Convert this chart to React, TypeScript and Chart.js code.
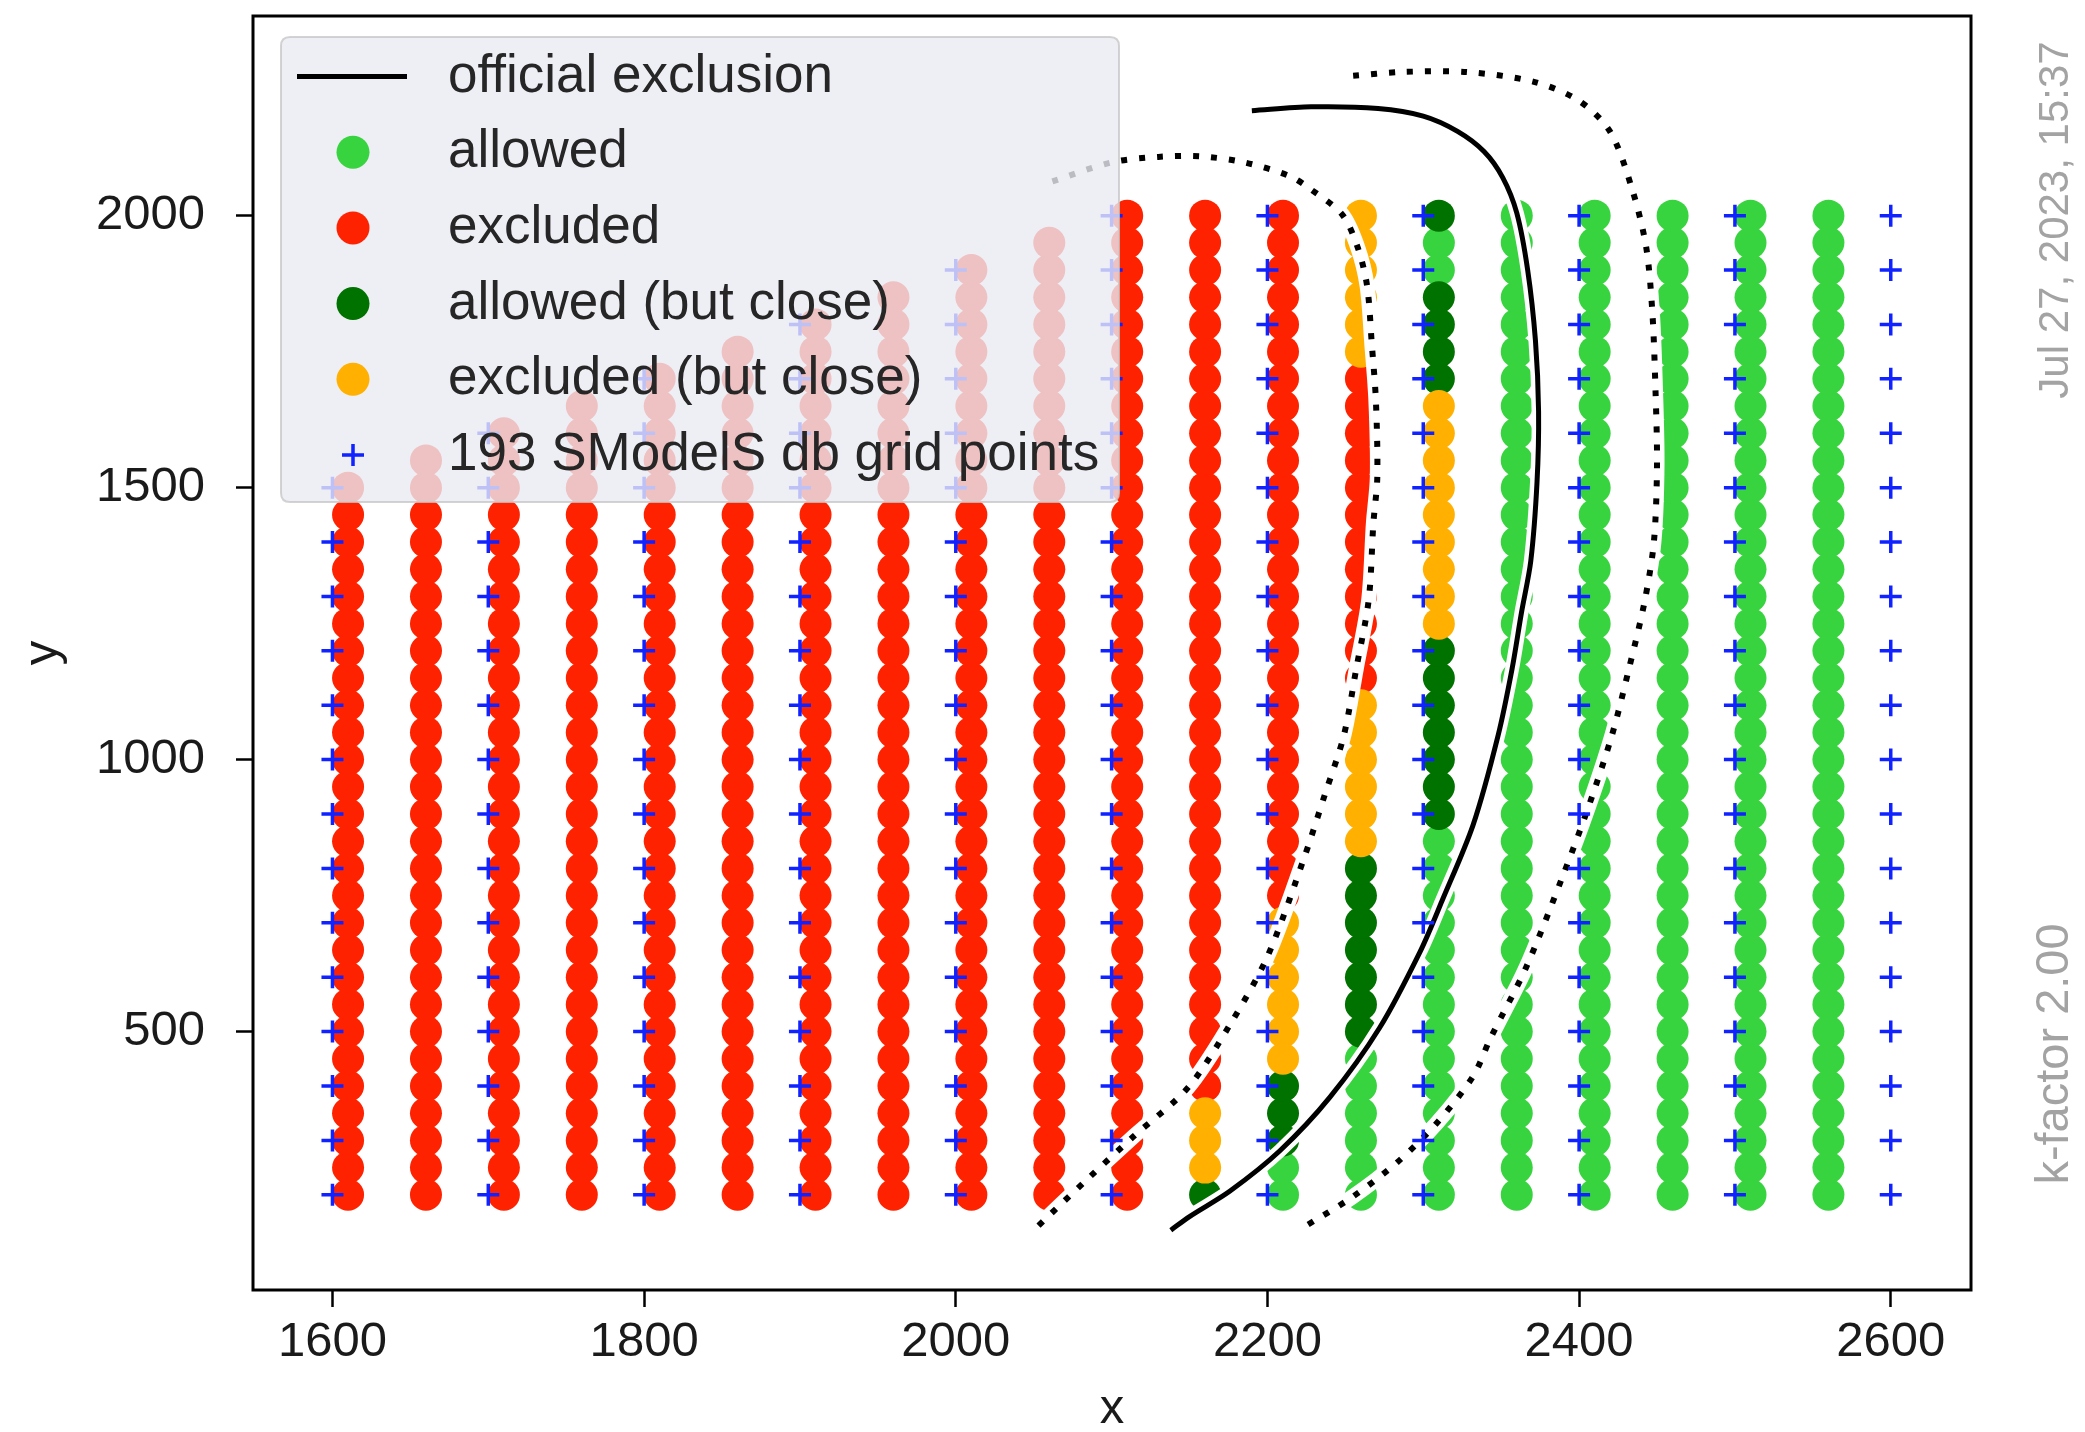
import React, { useEffect, useRef } from "react";
import { Chart, registerables } from "chart.js";

Chart.register(...registerables);

const FONT = "'Liberation Sans', Arial, Helvetica, sans-serif";

// ---------------- data ----------------
const xTicks = [1600, 1800, 2000, 2200, 2400, 2600];
const yTicks = [500, 1000, 1500, 2000];
const xRange = [1549, 2651.5];
const yRange = [25, 2367];

// circle columns (results), classified bottom-up from y=200 in steps of 50
// G = allowed, R = excluded, D = allowed (but close), O = excluded (but close)
const circleColumnsX = [1610, 1660, 1710, 1760, 1810, 1860, 1910, 1960, 2010, 2060, 2110, 2160, 2210, 2260, 2310, 2360, 2410, 2460, 2510, 2560];
const circleStartY = 200;
const circleStepY = 50;
const circleColumnRuns = [
  "R27", "R28", "R29", "R30", "R31", "R32", "R33", "R34", "R35", "R36", "R37",
  "D1 O3 R33",
  "G2 D3 O6 R26",
  "G6 D7 O6 R12 O6",
  "G14 D7 O9 D4 G2 D1",
  "G37", "G37", "G37", "G37", "G37",
];

const classCodes = ["G", "R", "D", "O"];
const classLabels = ["allowed", "excluded", "allowed (but close)", "excluded (but close)"];
const classColors = ["#38d43f", "#ff2200", "#007200", "#ffb000"];

// SModelS database grid points
const gridColumnsX = [1600, 1700, 1800, 1900, 2000, 2100, 2200, 2300, 2400, 2500, 2600];
const gridColumnTopY = [1500, 1600, 1700, 1800, 1900, 2000, 2000, 2000, 2000, 2000, 2000];
const gridStartY = 200;
const gridStepY = 100;
const gridLabel = "193 SModelS db grid points";

// official exclusion contour
const officialX = [2190, 2228, 2271, 2300, 2322, 2339, 2351, 2360, 2367, 2372, 2374, 2373, 2369, 2363, 2357, 2348, 2332, 2312, 2298, 2272, 2240, 2208, 2176, 2150, 2138];
const officialY = [2193, 2200, 2197, 2183, 2155, 2118, 2070, 2005, 1900, 1770, 1640, 1510, 1365, 1270, 1167, 1044, 880, 740, 647, 507, 379, 281, 207, 160, 135];

// dotted contours (inner / outer)
const innerX = [2062, 2100, 2130, 2157, 2185, 2214, 2228, 2248, 2258, 2264, 2267, 2269.6, 2270.5, 2268, 2265, 2257, 2249, 2237, 2223, 2200, 2176, 2149, 2114, 2086, 2050];
const innerY = [2063, 2098, 2108, 2109, 2098, 2073, 2048, 2002, 1941, 1870, 1763, 1660, 1519, 1435, 1294, 1167, 1044, 937, 815, 638, 513, 397, 307, 233, 135];
const outerX = [2255, 2285, 2328, 2371, 2400, 2420, 2434, 2443, 2447, 2449, 2450, 2448, 2442, 2432, 2421, 2406, 2389, 2366, 2343, 2332, 2309, 2283, 2254, 2223];
const outerY = [2257, 2264, 2264, 2246, 2211, 2154, 2049, 1943, 1823, 1682, 1541, 1400, 1290, 1167, 1044, 913, 782, 618, 487, 418, 333, 259, 195, 140];

const officialLabel = "official exclusion";
const legendOrder = [officialLabel, ...classLabels, gridLabel];

const sideNoteTop = "Jul 27, 2023, 15:37";
const sideNoteBottom = "k-factor 2.00";
const xTitle = "x";
const yTitle = "y";

// ---------------- helpers ----------------
const toPts = (xs: number[], ys: number[]) => xs.map((x, i) => ({ x, y: ys[i] }));

function buildCircles() {
  const buckets: Record<string, { x: number; y: number }[]> = { G: [], R: [], D: [], O: [] };
  circleColumnsX.forEach((x, ci) => {
    let k = 0;
    circleColumnRuns[ci].split(" ").forEach((run) => {
      const code = run[0];
      const n = parseInt(run.slice(1), 10);
      for (let j = 0; j < n; j++) {
        buckets[code].push({ x, y: circleStartY + circleStepY * k });
        k++;
      }
    });
  });
  return buckets;
}

function buildGrid() {
  const pts: { x: number; y: number }[] = [];
  gridColumnsX.forEach((x, i) => {
    for (let y = gridStartY; y <= gridColumnTopY[i]; y += gridStepY) pts.push({ x, y });
  });
  return pts;
}

// ---------------- plugins ----------------
const framePlugin = {
  id: "frameBox",
  afterDatasetsDraw(chart: any) {
    const { ctx, chartArea } = chart;
    ctx.save();
    ctx.strokeStyle = "#000";
    ctx.lineWidth = 3;
    ctx.strokeRect(chartArea.left, chartArea.top, chartArea.right - chartArea.left, chartArea.bottom - chartArea.top);
    ctx.restore();
  },
};

const legendPlugin = {
  id: "boxLegend",
  afterDraw(chart: any) {
    const ctx = chart.ctx;
    ctx.save();
    const bx = 281, by = 37, bw = 838, bh = 465, r = 9;
    ctx.beginPath();
    ctx.moveTo(bx + r, by);
    ctx.lineTo(bx + bw - r, by);
    ctx.quadraticCurveTo(bx + bw, by, bx + bw, by + r);
    ctx.lineTo(bx + bw, by + bh - r);
    ctx.quadraticCurveTo(bx + bw, by + bh, bx + bw - r, by + bh);
    ctx.lineTo(bx + r, by + bh);
    ctx.quadraticCurveTo(bx, by + bh, bx, by + bh - r);
    ctx.lineTo(bx, by + r);
    ctx.quadraticCurveTo(bx, by, bx + r, by);
    ctx.closePath();
    ctx.fillStyle = "rgba(234,234,242,0.8)";
    ctx.fill();
    ctx.strokeStyle = "rgba(200,200,200,0.8)";
    ctx.lineWidth = 2;
    ctx.stroke();

    const items = legendOrder.map((l) => chart.data.datasets.find((d: any) => d.label === l));
    items.forEach((ds: any, i: number) => {
      if (!ds) return;
      const cy = 76.5 + i * 75.7;
      const mx = 353;
      if (ds.showLine) {
        ctx.beginPath();
        ctx.moveTo(297, cy);
        ctx.lineTo(407, cy);
        ctx.strokeStyle = ds.borderColor;
        ctx.lineWidth = ds.borderWidth;
        ctx.stroke();
      } else if (ds.pointStyle === "cross") {
        const h = ds.pointRadius;
        ctx.beginPath();
        ctx.moveTo(mx - h, cy);
        ctx.lineTo(mx + h, cy);
        ctx.moveTo(mx, cy - h);
        ctx.lineTo(mx, cy + h);
        ctx.strokeStyle = ds.pointBorderColor;
        ctx.lineWidth = ds.pointBorderWidth;
        ctx.stroke();
      } else {
        ctx.beginPath();
        ctx.arc(mx, cy, ds.pointRadius + 0.5, 0, Math.PI * 2);
        ctx.fillStyle = ds.pointBackgroundColor;
        ctx.fill();
      }
      ctx.fillStyle = "#262626";
      ctx.font = `53px ${FONT}`;
      ctx.textAlign = "left";
      ctx.textBaseline = "alphabetic";
      ctx.fillText(ds.label, 448, cy + 15);
    });
    ctx.restore();
  },
};

const sideNotesPlugin = {
  id: "sideNotes",
  afterDraw(chart: any) {
    const ctx = chart.ctx;
    ctx.save();
    ctx.fillStyle = "#a3a3a3";
    ctx.textAlign = "center";
    ctx.textBaseline = "alphabetic";
    ctx.save();
    ctx.translate(2068, 220);
    ctx.rotate(-Math.PI / 2);
    ctx.font = `42px ${FONT}`;
    ctx.fillText(sideNoteTop, 0, 0);
    ctx.restore();
    ctx.save();
    ctx.translate(2068, 1054);
    ctx.rotate(-Math.PI / 2);
    ctx.font = `47px ${FONT}`;
    ctx.fillText(sideNoteBottom, 0, 0);
    ctx.restore();
    ctx.restore();
  },
};

// ---------------- component ----------------
export default function App() {
  const ref = useRef<HTMLCanvasElement>(null);

  useEffect(() => {
    const canvas = ref.current;
    if (!canvas) return;
    const circles = buildCircles();
    const grid = buildGrid();

    const lineDs = (label: string, xs: number[], ys: number[], color: string, width: number, order: number, dash: number[] = []) => ({
      type: "scatter" as const,
      label,
      data: toPts(xs, ys),
      showLine: true,
      borderColor: color,
      backgroundColor: color,
      borderWidth: width,
      borderDash: dash,
      borderCapStyle: "butt",
      pointRadius: 0,
      tension: 0.3,
      order,
    });

    const plusColor = "#0f22ff";
    const datasets: any[] = [
      {
        type: "scatter",
        label: gridLabel,
        data: grid,
        pointStyle: "cross",
        pointRadius: 11,
        pointBorderWidth: 3.5,
        pointBorderColor: plusColor,
        borderColor: plusColor,
        backgroundColor: plusColor,
        order: 0,
      },
      lineDs(officialLabel, officialX, officialY, "#000000", 5, 1),
      lineDs("", innerX, innerY, "#000000", 6, 1, [6, 12]),
      lineDs("", outerX, outerY, "#000000", 6, 1, [6, 12]),
      lineDs("", officialX, officialY, "#ffffff", 14, 2),
      lineDs("", innerX, innerY, "#ffffff", 15, 2),
      lineDs("", outerX, outerY, "#ffffff", 15, 2),
    ];
    classCodes.forEach((code, i) => {
      datasets.push({
        type: "scatter",
        label: classLabels[i],
        data: circles[code],
        pointStyle: "circle",
        pointRadius: 16,
        pointBorderWidth: 0,
        pointBackgroundColor: classColors[i],
        backgroundColor: classColors[i],
        borderColor: classColors[i],
        order: 10 - i,
      });
    });

    const tickFont = { size: 49, family: FONT };
    const fmt = (v: any) => String(v);
    const chart = new Chart(canvas, {
      type: "scatter",
      data: { datasets },
      options: {
        responsive: false,
        animation: false,
        devicePixelRatio: 1,
        events: [],
        layout: { padding: { left: 0, top: 13, right: 114, bottom: 0 } },
        plugins: { legend: { display: false }, tooltip: { enabled: false } },
        scales: {
          x: {
            type: "linear",
            min: xRange[0],
            max: xRange[1],
            afterBuildTicks: (axis: any) => {
              axis.ticks = xTicks.map((v) => ({ value: v }));
            },
            afterFit: (axis: any) => {
              axis.height = 142;
              axis.paddingLeft = 0;
              axis.paddingRight = 0;
              axis.paddingTop = 0;
              axis.paddingBottom = 0;
            },
            grid: { display: true, drawOnChartArea: false, drawTicks: true, tickLength: 17, tickWidth: 2.5, tickColor: "#000" },
            border: { display: false },
            ticks: { font: tickFont, color: "#1a1a1a", padding: 6, maxRotation: 0, autoSkip: false, callback: fmt },
            title: { display: true, text: xTitle, font: { size: 49, family: FONT, lineHeight: 0.9 }, color: "#1a1a1a", padding: { top: 0, bottom: 0 } },
          },
          y: {
            type: "linear",
            min: yRange[0],
            max: yRange[1],
            afterBuildTicks: (axis: any) => {
              axis.ticks = yTicks.map((v) => ({ value: v }));
            },
            afterFit: (axis: any) => {
              axis.width = 253;
              axis.paddingLeft = 0;
              axis.paddingRight = 0;
              axis.paddingTop = 0;
              axis.paddingBottom = 0;
            },
            grid: { display: true, drawOnChartArea: false, drawTicks: true, tickLength: 17, tickWidth: 2.5, tickColor: "#000" },
            border: { display: false },
            ticks: { font: tickFont, color: "#1a1a1a", padding: 31, autoSkip: false, callback: fmt },
            title: { display: true, text: yTitle, font: { size: 49, family: FONT, lineHeight: 0.9 }, color: "#1a1a1a", padding: { top: 21, bottom: 0 } },
          },
        },
      } as any,
      plugins: [framePlugin, legendPlugin, sideNotesPlugin],
    } as any);

    return () => chart.destroy();
  }, []);

  return (
    <div style={{ position: "fixed", left: 0, top: 0, width: 2085, height: 1432, background: "#ffffff" }}>
      <canvas ref={ref} width={2085} height={1432} style={{ display: "block", width: 2085, height: 1432 }} />
    </div>
  );
}
